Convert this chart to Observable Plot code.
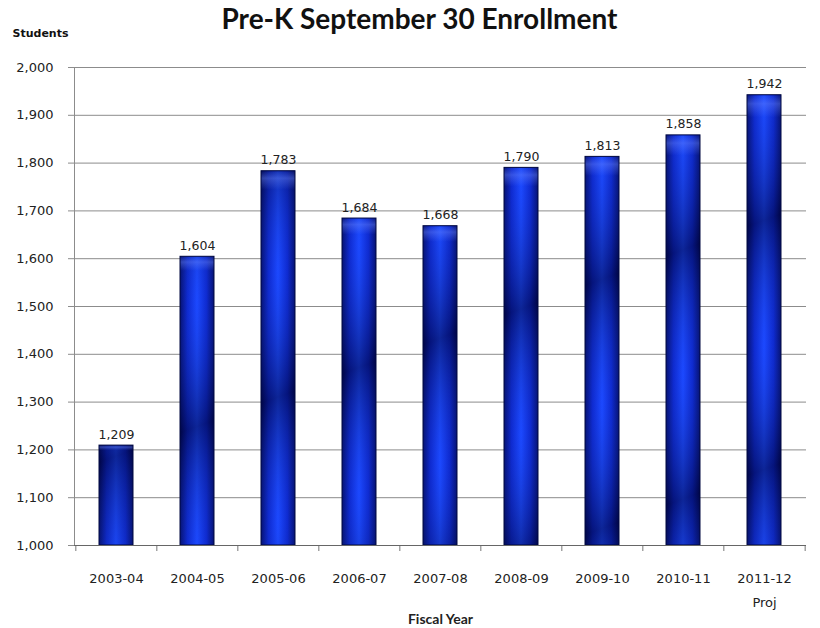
<!DOCTYPE html>
<html>
<head>
<meta charset="utf-8">
<script src="https://cdn.jsdelivr.net/npm/d3@7"></script>
<script src="https://cdn.jsdelivr.net/npm/@observablehq/plot@0.6"></script>
<style>
  body { margin: 0; background: #fff; }
  #chart svg { display: block; }
</style>
</head>
<body>
<svg width="0" height="0" style="position:absolute">
  <defs>
    <linearGradient id="hgrad" x1="0" y1="0" x2="1" y2="0">
      <stop offset="0%" stop-color="#00055a"/>
      <stop offset="22%" stop-color="#0a22c8"/>
      <stop offset="50%" stop-color="#1a46ff"/>
      <stop offset="78%" stop-color="#0a22c8"/>
      <stop offset="100%" stop-color="#00055a"/>
    </linearGradient>
    <linearGradient id="diag" gradientUnits="userSpaceOnUse" x1="0" y1="0" x2="40" y2="110" spreadMethod="reflect">
      <stop offset="0%" stop-color="#000530" stop-opacity="0.5"/>
      <stop offset="100%" stop-color="#2a5cff" stop-opacity="0.15"/>
    </linearGradient>
    <linearGradient id="cap" x1="0" y1="0" x2="0" y2="1">
      <stop offset="0%" stop-color="#6f8cff" stop-opacity="0.0"/>
      <stop offset="2%" stop-color="#6f8cff" stop-opacity="0.4"/>
      <stop offset="5%" stop-color="#6f8cff" stop-opacity="0"/>
      <stop offset="100%" stop-color="#6f8cff" stop-opacity="0"/>
    </linearGradient>
  </defs>
</svg>
<div id="chart"></div>
<script>
const years = ["2003-04","2004-05","2005-06","2006-07","2007-08","2008-09","2009-10","2010-11","2011-12"];
const yearLabels = ["2003-04","2004-05","2005-06","2006-07","2007-08","2008-09","2009-10","2010-11","2011-12\nProj"];
const enrollment = [1209, 1604, 1783, 1684, 1668, 1790, 1813, 1858, 1942];
const yTicks = [1000,1100,1200,1300,1400,1500,1600,1700,1800,1900,2000];
const title = "Pre-K September 30 Enrollment";
const yTitle = "Students";
const xTitle = "Fiscal Year";

const data = years.map((y, i) => ({year: y, value: enrollment[i]}));
const labelOf = new Map(years.map((y, i) => [y, yearLabels[i]]));
const fmt = d3.format(",");

const W = 820, H = 628, mL = 74, mR = 14, mT = 67, mB = 83;
const step = (W - mL - mR) / years.length;

const plot = Plot.plot({
  width: W, height: H,
  marginLeft: mL, marginRight: mR, marginTop: mT, marginBottom: mB,
  style: {fontFamily: "DejaVu Sans", fontSize: "13px", color: "#222", background: "#fff"},
  x: {domain: years, paddingInner: 0.58, paddingOuter: 0.29, label: null},
  y: {domain: [1000, 2000], label: null},
  marks: [
    Plot.gridY(yTicks, {stroke: "#8c8c8c", strokeOpacity: 1}),
    Plot.frame({anchor: "left", stroke: "#8c8c8c"}),
    Plot.axisY(yTicks, {tickSize: 6, tickPadding: 15, tickFormat: fmt, stroke: "#8c8c8c", fill: "#222", fontSize: 13, label: null}),
    Plot.axisX(years, {tickSize: 0, tickPadding: 21, tickFormat: d => labelOf.get(d), lineHeight: 1.8, fontSize: 13, fill: "#222", label: null}),
    Plot.axisX(years, {tickSize: 6, text: null, dx: -step / 2, stroke: "#777", label: null}),
    Plot.axisX([years[years.length - 1]], {tickSize: 6, text: null, dx: step / 2, stroke: "#777", label: null}),
    Plot.barY(data, {x: "year", y1: 1000, y2: "value", fill: "url(#hgrad)"}),
    Plot.barY(data, {x: "year", y1: 1000, y2: "value", fill: "url(#diag)"}),
    Plot.barY(data, {x: "year", y1: 1000, y2: "value", fill: "url(#cap)", stroke: "#000840", strokeWidth: 1}),
    Plot.ruleY([1000], {stroke: "#666"}),
    Plot.text(data, {x: "year", y: "value", text: d => fmt(d.value), dy: -7, lineAnchor: "bottom", fontSize: 12.5, fill: "#222"}),
    Plot.text([title], {frameAnchor: "top", lineAnchor: "middle", dx: -21, dy: -47, fontFamily: "Lato", fontWeight: "bold", fontSize: 28, fill: "#111"}),
    Plot.text([yTitle], {frameAnchor: "top-left", lineAnchor: "middle", textAnchor: "start", dx: -62, dy: -34, fontWeight: "bold", fontSize: 11, fill: "#111"}),
    Plot.text([xTitle], {frameAnchor: "bottom", lineAnchor: "middle", dy: 74, fontFamily: "Lato", fontWeight: "bold", fontSize: 14, fill: "#222"})
  ]
});
document.getElementById("chart").appendChild(plot);
</script>
</body>
</html>
